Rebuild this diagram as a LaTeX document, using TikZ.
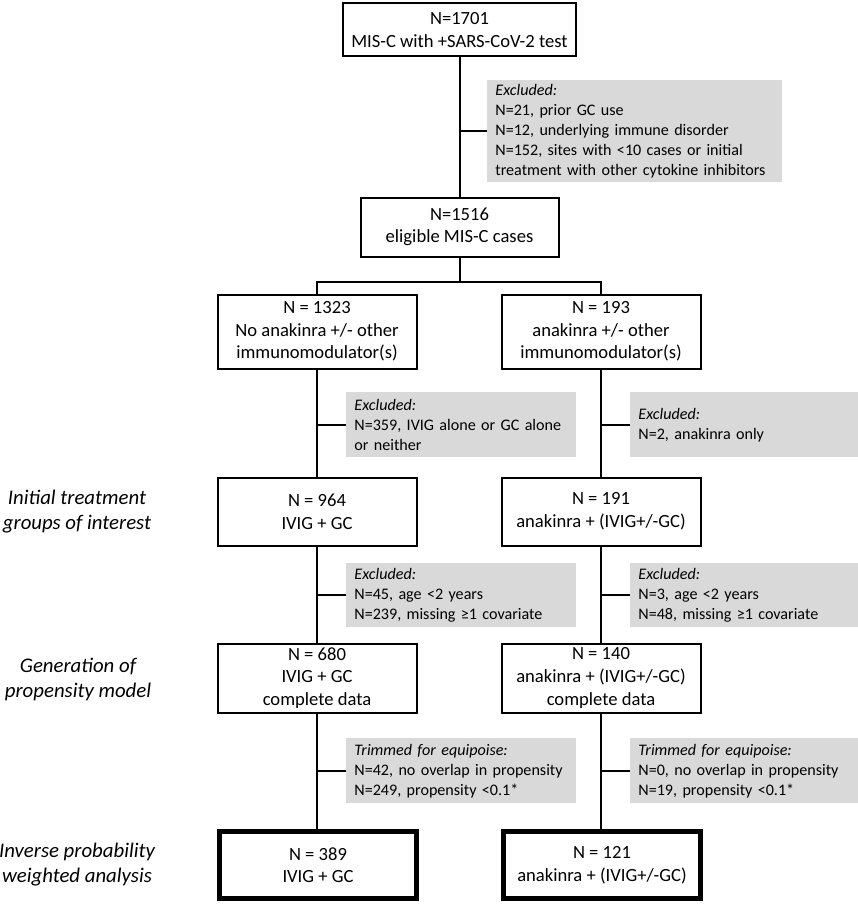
\documentclass[tikz,border=0pt]{standalone}
\usepackage{fontspec}
\setmainfont{Carlito}
\usetikzlibrary{calc}
\definecolor{exgrey}{RGB}{217,217,217}
\hyphenpenalty=10000
\tikzset{
	stage/.style={draw, line width=1pt, fill=white, align=center, inner sep=0pt, font=\fontsize{9.3}{11.3}\selectfont},
	final/.style={stage, line width=2.5pt},
	excl/.style={fill=exgrey, align=left, inner xsep=4pt, inner ysep=0pt, anchor=north west, font=\fontsize{8.05}{10}\selectfont},
	rowlabel/.style={align=center, inner sep=0pt, font=\fontsize{10.4}{12.5}\selectfont\itshape},
	link/.style={line width=1pt}
}
\newcommand{\lcol}{317}
\newcommand{\rcol}{601}
\begin{document}
\begin{tikzpicture}[x=0.5pt, y=-0.5pt]
	\useasboundingbox (0,0) rectangle (857,904);
		% stages = boxes
		\node[stage, minimum width=116.5pt, minimum height=26.5pt] (n1701) at (459.5, 30) {N=1701\\MIS-C with +SARS-CoV-2 test};
		\node[stage, minimum width=99pt, minimum height=29.5pt] (n1516) at (459.5, 227) {N=1516\\eligible MIS-C cases};
		\node[stage, minimum width=99.5pt, minimum height=37pt] (n1323) at (\lcol, 331.5) {N = 1323\\No anakinra +/- other\\immunomodulator(s)};
		\node[stage, minimum width=99.5pt, minimum height=37pt] (n193) at (\rcol, 331.5) {N = 193\\anakinra +/- other\\immunomodulator(s)};
		\node[stage, minimum width=99.5pt, minimum height=34pt] (n964) at (\lcol, 511.5) {N = 964\\IVIG + GC};
		\node[stage, minimum width=99.5pt, minimum height=34pt] (n191) at (\rcol, 511.5) {N = 191\\anakinra + (IVIG+/-GC)};
		\node[stage, minimum width=99.5pt, minimum height=34.5pt] (n680) at (\lcol, 678) {N = 680\\IVIG + GC\\complete data};
		\node[stage, minimum width=99.5pt, minimum height=34.5pt] (n140) at (\rcol, 678) {N = 140\\anakinra + (IVIG+/-GC)\\complete data};
		\node[final, minimum width=98.5pt, minimum height=33.5pt] (n389) at (318, 865) {N = 389\\IVIG + GC};
		\node[final, minimum width=98.5pt, minimum height=33.5pt] (n121) at (602, 865) {N = 121\\anakinra + (IVIG+/-GC)};
		% exclusions = grey boxes
		\node[excl, text width=139.5pt, minimum height=51pt] (ex1) at (487, 80) {\textit{Excluded:}\\N=21, prior GC use\\N=12, underlying immune disorder\\N=152, sites with <10 cases or initial\\treatment with other cytokine inhibitors};
		\node[excl, text width=107pt, minimum height=32.5pt] (ex2l) at (346, 392) {\textit{Excluded:}\\N=359, IVIG alone or GC alone\\or neither};
		\node[excl, text width=107pt, minimum height=32.5pt] (ex2r) at (630, 392) {\textit{Excluded:}\\N=2, anakinra only};
		\node[excl, text width=107pt, minimum height=32pt] (ex3l) at (346, 563) {\textit{Excluded:}\\N=45, age <2 years\\N=239, missing ≥1 covariate};
		\node[excl, text width=107pt, minimum height=32pt] (ex3r) at (630, 563) {\textit{Excluded:}\\N=3, age <2 years\\N=48, missing ≥1 covariate};
		\node[excl, text width=107pt, minimum height=32.5pt] (trl) at (346, 738) {\textit{Trimmed for equipoise:}\\N=42, no overlap in propensity\\N=249, propensity <0.1*};
		\node[excl, text width=107pt, minimum height=32.5pt] (trr) at (630, 738) {\textit{Trimmed for equipoise:}\\N=0, no overlap in propensity\\N=19, propensity <0.1*};
		% row labels
		\node[rowlabel] (lab1) at (77, 512) {Initial treatment\\groups of interest};
		\node[rowlabel] (lab2) at (78, 679) {Generation of\\propensity model};
		\node[rowlabel] (lab3) at (77, 865) {Inverse probability\\weighted analysis};
		% connectors
		\coordinate (split) at (459.5, 282);
		\draw[link] (n1701) -- (n1516);
		\draw[link] (ex1.west -| n1701) -- (ex1.west);
		\draw[link] (n1516) -- (split);
		\draw[link] (n1323.north) |- (split) -| (n193.north);
		\draw[link] (n1323) -- (n964);
		\draw[link] (n193) -- (n191);
		\draw[link] (n964) -- (n680);
		\draw[link] (n191) -- (n140);
		\draw[link] (n680) -- (n389.north -| n680);
		\draw[link] (n140) -- (n121.north -| n140);
		\draw[link] (ex2l.west -| n1323) -- (ex2l.west);
		\draw[link] (ex2r.west -| n193) -- (ex2r.west);
		\draw[link] (ex3l.west -| n964) -- (ex3l.west);
		\draw[link] (ex3r.west -| n191) -- (ex3r.west);
		\draw[link] (trl.west -| n680) -- (trl.west);
		\draw[link] (trr.west -| n140) -- (trr.west);
\end{tikzpicture}
\end{document}
